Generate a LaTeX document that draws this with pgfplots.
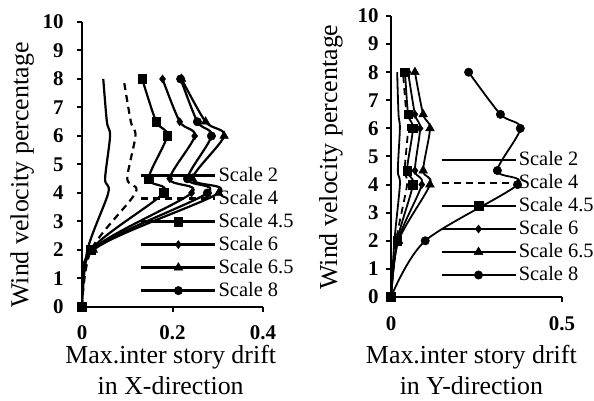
\documentclass[border=0pt]{standalone}
\usepackage{pgfplots}
\pgfplotsset{compat=1.18}
\usepackage{fontspec}
\setmainfont{Liberation Serif}

\pgfplotsset{
 mystyle/.style={
  scale only axis,
  anchor=origin,
  axis x line=bottom, axis y line=left,
  axis line style={-, line width=2.6bp, black},
  tick align=outside,
  major tick length=5bp,
  tick style={line width=2bp, black},
  ymin=0, ymax=10, ytick={0,1,...,10},
  xmin=0,
  /pgf/number format/assume math mode=true,
  /pgf/number format/fixed,
  ticklabel style={font=\fontsize{21}{21}\selectfont\bfseries},
  xlabel style={align=center, font=\fontsize{26}{31}\selectfont, anchor=north},
  ylabel style={font=\fontsize{26}{26}\selectfont, anchor=center},
  legend style={draw=none, fill=none, inner sep=0pt, font=\fontsize{20.5}{20.5}\selectfont,
    cells={anchor=west}, row sep=4bp, column sep=2bp, anchor=north west,
    nodes={inner sep=0pt, text height=15bp, text depth=4bp}},
  legend image code/.code={\draw[mark repeat=2,mark phase=2,#1,line width=2.5bp] plot coordinates {(0bp,0bp) (37bp,0bp) (74bp,0bp)};},
  every axis plot/.append style={black, smooth, tension=0.5},
 },
 s2/.style={solid, no markers},
 s4/.style={dash pattern=on 7bp off 5bp, no markers},
 s45/.style={mark=square*, mark size=4.3bp, mark options={solid, fill=black, line width=0.5bp}},
 s6/.style={mark=diamond*, mark size=4bp, mark options={solid, fill=black, line width=0.5bp}},
 s65/.style={mark=triangle*, mark size=5bp, mark options={solid, fill=black, line width=0.5bp}},
 s8/.style={mark=*, mark size=4.2bp, mark options={solid, fill=black, line width=0.5bp}},
}

\begin{document}
\begin{tikzpicture}
\path[use as bounding box] (0,0) rectangle (594bp,401bp);

\begin{axis}[mystyle,
  at={(82bp,94bp)}, width=181bp, height=285bp,
  xmax=0.4, xtick={0,0.2,0.4},
  every axis plot/.append style={line width=2.2bp},
  xticklabel style={yshift=-10bp},
  yticklabel style={xshift=-10bp},
  xlabel={Max.inter story drift\\in X-direction},
  ylabel={Wind velocity percentage},
  xlabel style={at={(axis description cs:0.49,-0.122)}},
  ylabel style={at={(axis description cs:-0.331,0.463)}},
  legend style={at={(axis description cs:0.32,0.495)}},
]
\addplot[s2] coordinates {(0,0) (0.012,2) (0.058,4) (0.051,4.5) (0.062,6) (0.055,6.5) (0.047,8)};
\addplot[s4] coordinates {(0,0) (0.02,2) (0.118,4) (0.1,4.5) (0.118,6) (0.108,6.5) (0.092,8)};
\addplot[s45] coordinates {(0,0) (0.02,2) (0.18,4) (0.147,4.5) (0.188,6) (0.164,6.5) (0.133,8)};
\addplot[s6] coordinates {(0,0) (0.022,2) (0.242,4) (0.194,4.5) (0.249,6) (0.216,6.5) (0.178,8)};
\addplot[s65] coordinates {(0,0) (0.025,2) (0.302,4) (0.244,4.5) (0.314,6) (0.273,6.5) (0.22,8)};
\addplot[s8] coordinates {(0,0) (0.022,2) (0.277,4) (0.233,4.5) (0.286,6) (0.255,6.5) (0.218,8)};
\legend{Scale 2, Scale 4, Scale 4.5, Scale 6, Scale 6.5, Scale 8}
\end{axis}

\begin{axis}[mystyle,
  at={(391bp,104bp)}, width=171bp, height=281bp,
  xmax=0.5, xtick={0,0.5},
  every axis plot/.append style={line width=1.8bp},
  xticklabel style={yshift=-11bp},
  yticklabel style={xshift=-4bp},
  xlabel={Max.inter story drift\\in Y-direction},
  ylabel={Wind velocity percentage},
  xlabel style={at={(axis description cs:0.47,-0.16)}},
  ylabel style={at={(axis description cs:-0.351,0.498)}},
  legend style={at={(axis description cs:0.287,0.522)}},
]
\addplot[s2] coordinates {(0,0) (0.01,2) (0.026,4) (0.02,4.5) (0.026,6) (0.022,6.5) (0.018,8)};
\addplot[s4] coordinates {(0,0) (0.015,2) (0.047,4) (0.04,4.5) (0.05,6) (0.045,6.5) (0.035,8)};
\addplot[s45] coordinates {(0,0) (0.018,2) (0.064,4) (0.047,4.5) (0.064,6) (0.05,6.5) (0.041,8)};
\addplot[s6] coordinates {(0,0) (0.02,2) (0.09,4) (0.07,4.5) (0.085,6) (0.07,6.5) (0.05,8)};
\addplot[s65] coordinates {(0,0) (0.022,2) (0.114,4) (0.094,4.5) (0.114,6) (0.094,6.5) (0.07,8)};
\addplot[s8] coordinates {(0,0) (0.1,2) (0.37,4) (0.311,4.5) (0.378,6) (0.32,6.5) (0.227,8)};
\legend{Scale 2, Scale 4, Scale 4.5, Scale 6, Scale 6.5, Scale 8}
\end{axis}
\end{tikzpicture}
\end{document}
